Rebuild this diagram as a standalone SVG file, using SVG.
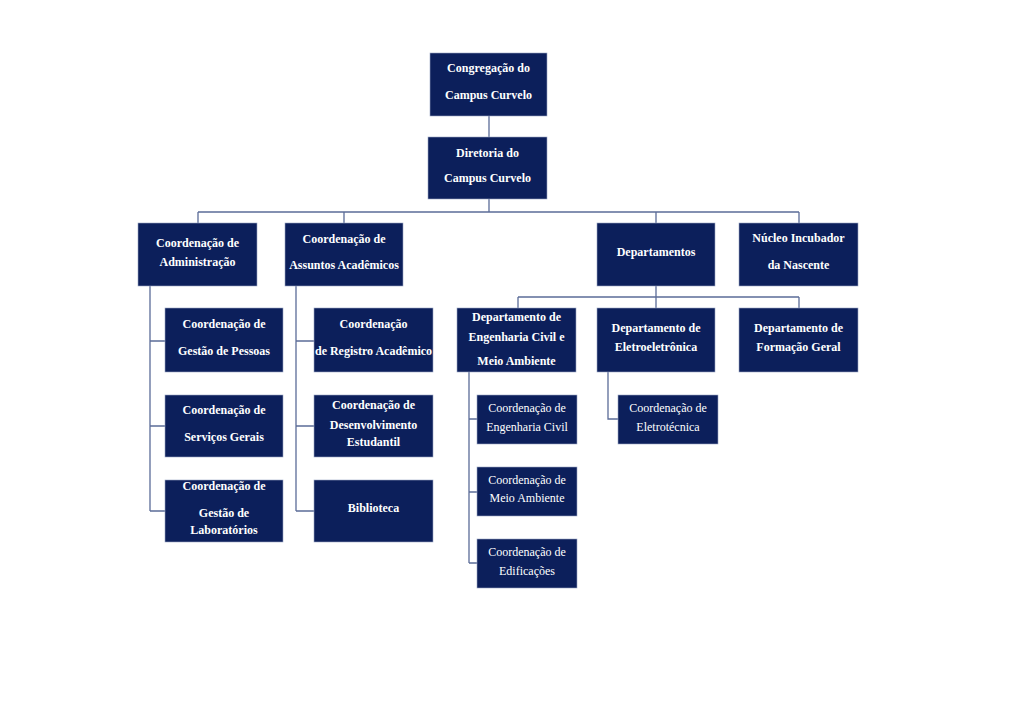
<svg xmlns="http://www.w3.org/2000/svg" width="1024" height="724" viewBox="0 0 1024 724">
<style>
.b{fill:#0c1f5b;stroke:#9aa6c4;stroke-width:0.6}
.t{font-family:"Liberation Serif",serif;font-size:12px;fill:#ffffff;text-anchor:middle;font-weight:bold}
.r{font-weight:normal}
.c{fill:none;stroke:#5b6c98;stroke-width:1.3}
</style>
<rect width="1024" height="724" fill="#ffffff"/>
<g id="connectors">
<path class="c" d="M489 116V137M489 199V212M198 212H799M198 212V223M344 212V223M656 212V223M799 212V223"/>
<path class="c" d="M656 286V297M518 297H799M518 297V308M656 297V308M799 297V308"/>
<path class="c" d="M150 286V511M150 341H165M150 426H165M150 511H165"/>
<path class="c" d="M296 286V511M296 341H314M296 426H314M296 511H314"/>
<path class="c" d="M469 372V563M469 419H477M469 492H477M469 563H477"/>
<path class="c" d="M608 372V419H618"/>
</g>
<g id="congregacao"><rect class="b" x="430" y="53" width="117" height="63"/><text class="t" x="488.5" y="72">Congregação do</text><text class="t" x="488.5" y="99">Campus Curvelo</text></g>
<g id="diretoria"><rect class="b" x="428" y="137" width="119" height="62"/><text class="t" x="487.5" y="157">Diretoria do</text><text class="t" x="487.5" y="182">Campus Curvelo</text></g>
<g id="coord-admin"><rect class="b" x="138" y="223" width="119" height="63"/><text class="t" x="197.5" y="247">Coordenação de</text><text class="t" x="197.5" y="266">Administração</text></g>
<g id="coord-assuntos"><rect class="b" x="285" y="223" width="118" height="63"/><text class="t" x="344" y="243">Coordenação de</text><text class="t" x="344" y="269">Assuntos Acadêmicos</text></g>
<g id="departamentos"><rect class="b" x="597" y="223" width="118" height="63"/><text class="t" x="656" y="256">Departamentos</text></g>
<g id="nucleo"><rect class="b" x="739" y="223" width="119" height="63"/><text class="t" x="798.5" y="242">Núcleo Incubador</text><text class="t" x="798.5" y="269">da Nascente</text></g>
<g id="gestao-pessoas"><rect class="b" x="165" y="308" width="118" height="64"/><text class="t" x="224" y="328">Coordenação de</text><text class="t" x="224" y="355">Gestão de Pessoas</text></g>
<g id="servicos-gerais"><rect class="b" x="165" y="395" width="118" height="62"/><text class="t" x="224" y="414">Coordenação de</text><text class="t" x="224" y="441">Serviços Gerais</text></g>
<g id="gestao-laboratorios"><rect class="b" x="165" y="480" width="118" height="62"/><text class="t" x="224" y="490">Coordenação de</text><text class="t" x="224" y="517">Gestão de</text><text class="t" x="224" y="534">Laboratórios</text></g>
<g id="registro"><rect class="b" x="314" y="308" width="119" height="64"/><text class="t" x="373.5" y="328">Coordenação</text><text class="t" x="373.5" y="355">de Registro Acadêmico</text></g>
<g id="desenvolvimento"><rect class="b" x="314" y="395" width="119" height="62"/><text class="t" x="373.5" y="409">Coordenação de</text><text class="t" x="373.5" y="429">Desenvolvimento</text><text class="t" x="373.5" y="446">Estudantil</text></g>
<g id="biblioteca"><rect class="b" x="314" y="480" width="119" height="62"/><text class="t" x="373.5" y="512">Biblioteca</text></g>
<g id="dept-eng-civil"><rect class="b" x="457" y="308" width="119" height="64"/><text class="t" x="516.5" y="321">Departamento de</text><text class="t" x="516.5" y="341">Engenharia Civil e</text><text class="t" x="516.5" y="365">Meio Ambiente</text></g>
<g id="dept-eletro"><rect class="b" x="597" y="308" width="118" height="64"/><text class="t" x="656" y="332">Departamento de</text><text class="t" x="656" y="351">Eletroeletrônica</text></g>
<g id="dept-formacao"><rect class="b" x="739" y="308" width="119" height="64"/><text class="t" x="798.5" y="332">Departamento de</text><text class="t" x="798.5" y="351">Formação Geral</text></g>
<g id="coord-eng-civil"><rect class="b" x="477" y="395" width="100" height="49"/><text class="t r" x="527" y="412">Coordenação de</text><text class="t r" x="527" y="431">Engenharia Civil</text></g>
<g id="coord-meio-ambiente"><rect class="b" x="477" y="467" width="100" height="49"/><text class="t r" x="527" y="484">Coordenação de</text><text class="t r" x="527" y="502">Meio Ambiente</text></g>
<g id="coord-edificacoes"><rect class="b" x="477" y="539" width="100" height="49"/><text class="t r" x="527" y="556">Coordenação de</text><text class="t r" x="527" y="575">Edificações</text></g>
<g id="coord-eletrotecnica"><rect class="b" x="618" y="395" width="100" height="49"/><text class="t r" x="668" y="412">Coordenação de</text><text class="t r" x="668" y="431">Eletrotécnica</text></g>
</svg>
